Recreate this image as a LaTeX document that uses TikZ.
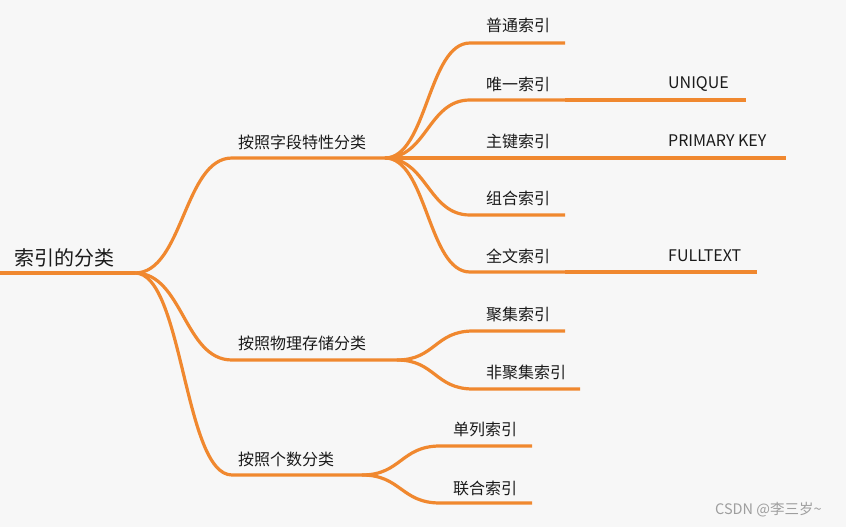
\documentclass[tikz,border=0pt]{standalone}
\usepackage{fontspec}
\setmainfont{Noto Sans CJK SC}
\usepackage{tikz}
\usetikzlibrary{calc}
\definecolor{narancs}{HTML}{F0882F}
\definecolor{hatter}{HTML}{F7F7F7}
\definecolor{betu}{HTML}{1A1A1A}
\tikzset{
  ag/.style={draw=narancs,line width=3.2pt},
  gorbe/.style={to path={.. controls +(#1,0) and +(-#1,0) .. (\tikztotarget)}},
  gorbe/.default=45,
  cim/.style={anchor=west,inner sep=0pt,text=betu,font=\fontsize{16}{18}\selectfont},
  gyoker/.style={cim,font=\fontsize{20}{22}\selectfont},
}

\begin{document}
\begin{tikzpicture}[x=1pt,y=-1pt]
  \fill[hatter] (0,0) rectangle (846,527);
  \useasboundingbox (0,0) rectangle (846,527);
  % root
  \coordinate (g0) at (0,273); \coordinate (g) at (135,273);
  \node[gyoker] (tg) at (14,258) {索引的分类};
  \draw[ag] (g0) -- (g);
  % main branches
  \coordinate (a1) at (232,158); \coordinate (a1e) at (385,158);
  \coordinate (a2) at (232,360); \coordinate (a2e) at (397,360);
  \coordinate (a3) at (232,475); \coordinate (a3e) at (362,475);
  \node[cim] (ta1) at (238,142) {按照字段特性分类};
  \node[cim] (ta2) at (238,343) {按照物理存储分类};
  \node[cim] (ta3) at (238,459) {按照个数分类};
  \foreach \i in {1,2,3}
    \draw[ag] (g) to[gorbe=48] (a\i) -- (a\i e);
  % by field property
  \coordinate (s1) at (470,43);  \coordinate (s1e) at (565,43);
  \coordinate (s2) at (470,100); \coordinate (s2e) at (565,100);
  \coordinate (s3) at (470,158); \coordinate (s3e) at (565,158);
  \coordinate (s4) at (470,215); \coordinate (s4e) at (565,215);
  \coordinate (s5) at (470,272); \coordinate (s5e) at (565,272);
  \node[cim] (ts1) at (486,25) {普通索引};
  \node[cim] (ts2) at (486,84) {唯一索引};
  \node[cim] (ts3) at (486,141) {主键索引};
  \node[cim] (ts4) at (486,198) {组合索引};
  \node[cim] (ts5) at (486,256) {全文索引};
  \foreach \i in {1,...,5}
    \draw[ag] (a1e) to[gorbe=42] (s\i) -- (s\i e);
  \coordinate (u) at (746,100); \coordinate (p) at (786,158); \coordinate (f) at (757,272);
  \node[cim] (tu) at (668,84) {UNIQUE};
  \node[cim] (tp) at (668,141) {PRIMARY KEY};
  \node[cim] (tf) at (668,256) {FULLTEXT};
  \draw[ag] (s2e) -- (u);
  \draw[ag] (s3e) -- (p);
  \draw[ag] (s5e) -- (f);
  % by storage
  \coordinate (s6) at (473,331); \coordinate (s6e) at (565,331);
  \coordinate (s7) at (473,389); \coordinate (s7e) at (580,389);
  \node[cim] (ts6) at (486,314) {聚集索引};
  \node[cim] (ts7) at (486,372) {非聚集索引};
  \foreach \i in {6,7}
    \draw[ag] (a2e) to[gorbe=38] (s\i) -- (s\i e);
  % by count
  \coordinate (s8) at (440,446); \coordinate (s8e) at (532,446);
  \coordinate (s9) at (440,503); \coordinate (s9e) at (532,503);
  \node[cim] (ts8) at (453,429) {单列索引};
  \node[cim] (ts9) at (453,488) {联合索引};
  \foreach \i in {8,9}
    \draw[ag] (a3e) to[gorbe=39] (s\i) -- (s\i e);
  % watermark
  \node[anchor=west,inner sep=0pt,text=black!38,font=\fontsize{14.5}{16}\selectfont] (wm) at (715,510) {CSDN @李三岁\textasciitilde};
\end{tikzpicture}
\end{document}
